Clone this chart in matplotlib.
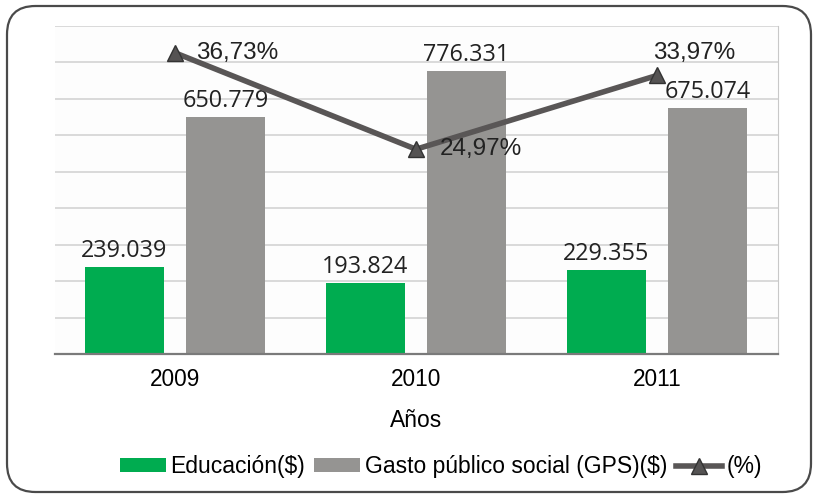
import matplotlib
matplotlib.use("Agg")
import matplotlib.pyplot as plt
from matplotlib.patches import FancyBboxPatch
from matplotlib.lines import Line2D
import numpy as np

years = ["2009", "2010", "2011"]
educacion = [239.039, 193.824, 229.355]
gps = [650.779, 776.331, 675.074]
pct = [36.73, 24.97, 33.97]
edu_labels = ["239.039", "193.824", "229.355"]
gps_labels = ["650.779", "776.331", "675.074"]
pct_labels = ["36,73%", "24,97%", "33,97%"]

GREEN = "#00ac50"
GRAY = "#959492"
LINE = "#595656"

plt.rcParams['font.family'] = ['Liberation Sans', 'DejaVu Sans']

fig = plt.figure(figsize=(8.14, 5.01), dpi=100)
fig.patch.set_facecolor("white")

# rounded border
border = FancyBboxPatch((7/814, 9/501), (804/814), (486/501),
                        boxstyle="round,pad=0,rounding_size=0.035",
                        transform=fig.transFigure, facecolor="none",
                        edgecolor="#4a4a4a", linewidth=1.6, mutation_aspect=814/501)
fig.patches.append(border)

ax = fig.add_axes([54.5/814, (501-354)/501, (777.5-54.5)/814, (354-26)/501])
x = np.arange(len(years))
w = 0.33
off = 0.21
b1 = ax.bar(x - off, educacion, w, color=GREEN, label="Educación($)", zorder=2)
b2 = ax.bar(x + off, gps, w, color=GRAY, label="Gasto público social (GPS)($)", zorder=2)
ax.set_xlim(-0.5, 2.5)
ax.set_ylim(0, 900)
ax.set_yticks(np.arange(0, 901, 100))
ax.set_yticklabels([])
ax.yaxis.grid(True, color="#d4d4d4", linewidth=1.2, zorder=0)
ax.set_axisbelow(True)
ax.set_xticks(x)
ax.set_xticklabels(years)
for s in ["top", "left"]:
    ax.spines[s].set_visible(False)
ax.spines["right"].set_color("#c8c8c8")
ax.spines["bottom"].set_color("#7a7a7a")
ax.spines["bottom"].set_linewidth(1.6)
ax.set_xlabel("Años", fontsize=16.5, labelpad=13)
ax.set_facecolor("#fdfdfd")

for xi, v, t in zip(x - off, educacion, edu_labels):
    ax.annotate(t, (xi, v), xytext=(0, 3), textcoords="offset points",
                ha="center", va="bottom", fontsize=16.8, family=["Open Sans", "DejaVu Sans"],
                color="#222222")
for xi, v, t in zip(x + off, gps, gps_labels):
    ax.annotate(t, (xi, v), xytext=(0, 3), textcoords="offset points",
                ha="center", va="bottom", fontsize=16.8, family=["Open Sans", "DejaVu Sans"],
                color="#222222")

ax2 = ax.twinx()
ax2.set_ylim(0, 40)
ax2.set_yticks([])
for s in ["top", "left", "right", "bottom"]:
    ax2.spines[s].set_visible(False)
ax.yaxis.set_tick_params(which='both', length=0, width=0)
ax.tick_params(axis='x', bottom=False, length=0, labelsize=16.3, pad=10)
ax2.yaxis.set_tick_params(which='both', length=0, width=0)

ax2.plot(x, pct, color=LINE, linewidth=4, marker="^", markersize=12,
         markerfacecolor="#555353", markeredgecolor="#333333", zorder=3)
label_offsets = [(15, 0, "left", "center"), (17, 0, "left", "center"), (27, 16.5, "center", "center")]
for xi, v, t, (dx, dy, ha, va) in zip(x, pct, pct_labels, label_offsets):
    ax2.annotate(t, (xi, v), xytext=(dx, dy), textcoords="offset points",
                 ha=ha, va=va, fontsize=17.5, color="#222222")

handles = [b1, b2,
           Line2D([], [], color=LINE, linewidth=4, marker="^", markersize=12,
                  markerfacecolor="#555353", markeredgecolor="#333333")]
labels = ["Educación($)", "Gasto público social (GPS)($)", "(%)"]
fig.legend(handles, labels, loc="center", bbox_to_anchor=(441/814, 1 - 467/501),
           ncol=3, frameon=False, fontsize=16.5, handlelength=2.0, handleheight=0.55,
           handletextpad=0.2, columnspacing=0.4, borderaxespad=0)

fig.savefig("out.png", dpi=100)
